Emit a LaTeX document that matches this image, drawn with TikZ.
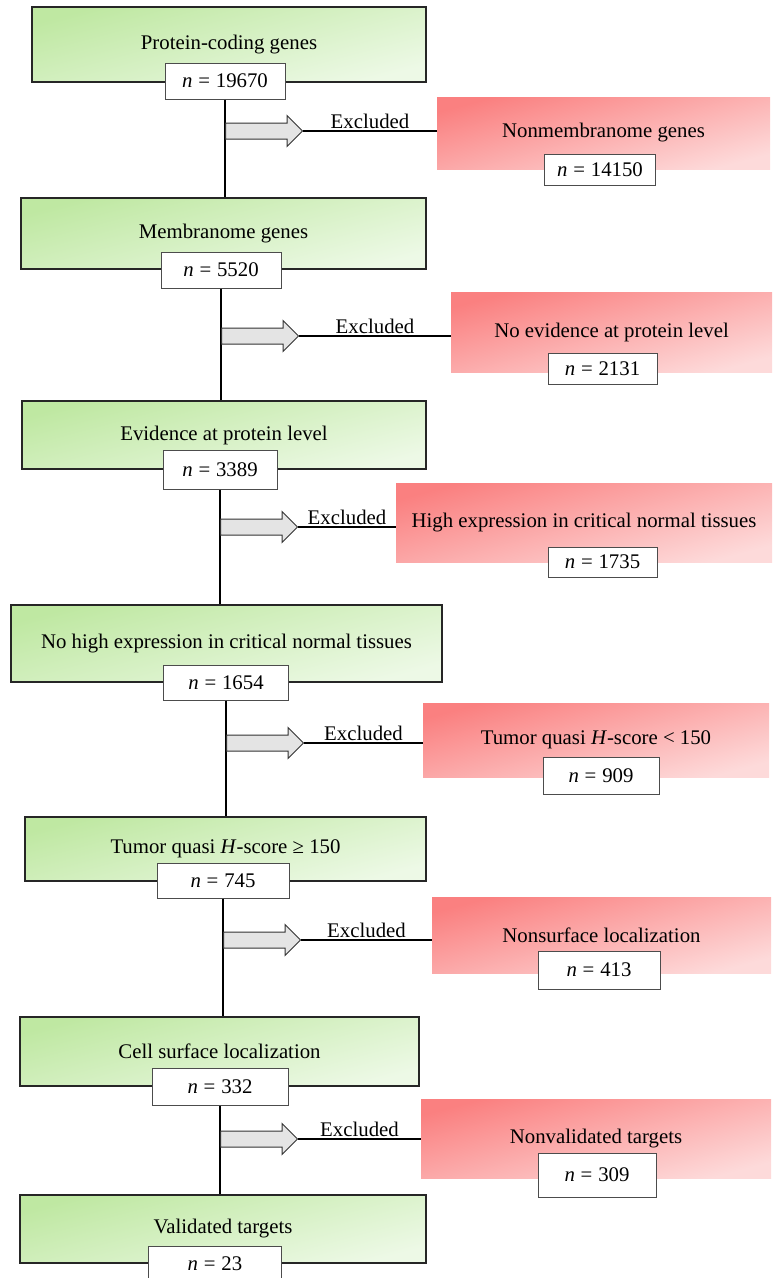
\documentclass[tikz,border=0pt]{standalone}
\usepackage{fontspec}
\setmainfont{Liberation Serif}
\usepackage{tikz}
\usetikzlibrary{shapes.arrows, positioning, calc}
\definecolor{keepA}{HTML}{BFE8A2}
\definecolor{keepB}{HTML}{EDF9E6}
\definecolor{dropA}{HTML}{FA8080}
\definecolor{dropB}{HTML}{FDDADA}
\definecolor{arrowgray}{HTML}{E4E4E4}
\newcommand{\ncount}[1]{\textit{n}\hspace{0.28em}=\hspace{0.28em}#1}

\tikzset{
  keepbox/.style={draw=black!85, line width=1.1pt, top color=keepA, bottom color=keepB, shading angle=15, inner sep=0pt},
  dropbox/.style={top color=dropA, bottom color=dropB, shading angle=15, inner sep=0pt},
  countbox/.style={draw=black!70, fill=white, line width=1pt, inner sep=0pt, minimum height=36pt},
  spine/.style={line width=1.4pt},
  blockarrow/.style={single arrow, draw=black!80, fill=arrowgray, line width=1pt, inner xsep=0pt, inner ysep=7.5pt,
    single arrow head extend=7.5pt, minimum height=77pt, anchor=tail},
  excline/.style={line width=1.6pt},
}

\begin{document}
\begin{tikzpicture}[x=1pt, y=-1pt, font=\fontsize{20.8}{24}\selectfont]
\useasboundingbox (0,0) rectangle (772,1278);

% kept genes, top to bottom
\node[keepbox, minimum width=394pt, minimum height=75pt] (g1) at (229,44.5) {Protein-coding genes};
\node[countbox, minimum width=120pt] (n1) at (225,81) {\ncount{19670}};
\node[keepbox, minimum width=405pt, minimum height=71pt] (g2) at (223.5,233.5) {Membranome genes};
\node[countbox, minimum width=120pt] (n2) at (221,270) {\ncount{5520}};
\node[keepbox, minimum width=404pt, minimum height=68pt] (g3) at (224,435) {Evidence at protein level};
\node[countbox, minimum width=114pt, minimum height=39pt] (n3) at (220,469.5) {\ncount{3389}};
\node[keepbox, minimum width=431pt, minimum height=77pt] (g4) at (226.5,643.5) {No high expression in critical normal tissues};
\node[countbox, minimum width=125pt, minimum height=35pt] (n4) at (226,682.5) {\ncount{1654}};
\node[keepbox, minimum width=401pt, minimum height=64pt] (g5) at (225.5,849) {Tumor quasi \textit{H}-score ≥ 150};
\node[countbox, minimum width=132pt, minimum height=35pt] (n5) at (223,880.5) {\ncount{745}};
\node[keepbox, minimum width=399pt, minimum height=69pt] (g6) at (219.5,1051.5) {Cell surface localization};
\node[countbox, minimum width=136pt, minimum height=37pt] (n6) at (220,1086.5) {\ncount{332}};
\node[keepbox, minimum width=406pt, minimum height=68pt] (g7) at (223,1229) {Validated targets};
\node[countbox, minimum width=133pt] (n7) at (215,1264) {\ncount{23}};

% excluded genes
\node[dropbox, minimum width=333pt, minimum height=72pt] (r1) at (603.5,133) {Nonmembranome genes};
\node[countbox, minimum width=111pt, minimum height=31pt] (m1) at (600,170) {\ncount{14150}};
\node[dropbox, minimum width=321pt, minimum height=80pt] (r2) at (611.5,332) {No evidence at protein level};
\node[countbox, minimum width=109pt, minimum height=31pt] (m2) at (602.5,368.5) {\ncount{2131}};
\node[dropbox, minimum width=376pt, minimum height=79pt] (r3) at (584,522.5) {High expression in critical normal tissues};
\node[countbox, minimum width=109pt, minimum height=30pt] (m3) at (602.5,562) {\ncount{1735}};
\node[dropbox, minimum width=346pt, minimum height=74pt] (r4) at (596,740) {Tumor quasi \textit{H}-score < 150};
\node[countbox, minimum width=116pt, minimum height=37pt] (m4) at (601,775.5) {\ncount{909}};
\node[dropbox, minimum width=339pt, minimum height=76pt] (r5) at (601.5,935) {Nonsurface localization};
\node[countbox, minimum width=122pt, minimum height=38pt] (m5) at (599,970) {\ncount{413}};
\node[dropbox, minimum width=350pt, minimum height=79pt] (r6) at (596,1138.5) {Nonvalidated targets};
\node[countbox, minimum width=118pt, minimum height=44pt] (m6) at (597,1175) {\ncount{309}};

% main line
\draw[spine] (n1.south) -- (n1.south |- g2.north);
\draw[spine] (n2.south) -- (n2.south |- g3.north);
\draw[spine] (n3.south) -- (n3.south |- g4.north);
\draw[spine] (n4.south) -- (n4.south |- g5.north);
\draw[spine] (n5.south) -- (n5.south |- g6.north);
\draw[spine] (n6.south) -- (n6.south |- g7.north);

% exclusion arrows
\node[blockarrow] (a1) at (n1.south |- 0,131) {};
\node[blockarrow] (a2) at (n2.south |- 0,336) {};
\node[blockarrow] (a3) at (n3.south |- 0,527) {};
\node[blockarrow] (a4) at (n4.south |- 0,743) {};
\node[blockarrow] (a5) at (n5.south |- 0,940) {};
\node[blockarrow] (a6) at (n6.south |- 0,1139) {};
\draw[excline] (a1.tip) -- (a1.tip -| r1.west) node[midway, above, inner sep=2pt] (e1) {Excluded};
\draw[excline] (a2.tip) -- (a2.tip -| r2.west) node[midway, above, inner sep=2pt] (e2) {Excluded};
\draw[excline] (a3.tip) -- (a3.tip -| r3.west) node[midway, above, inner sep=2pt] (e3) {Excluded};
\draw[excline] (a4.tip) -- (a4.tip -| r4.west) node[midway, above, inner sep=2pt] (e4) {Excluded};
\draw[excline] (a5.tip) -- (a5.tip -| r5.west) node[midway, above, inner sep=2pt] (e5) {Excluded};
\draw[excline] (a6.tip) -- (a6.tip -| r6.west) node[midway, above, inner sep=2pt] (e6) {Excluded};
\end{tikzpicture}
\end{document}
